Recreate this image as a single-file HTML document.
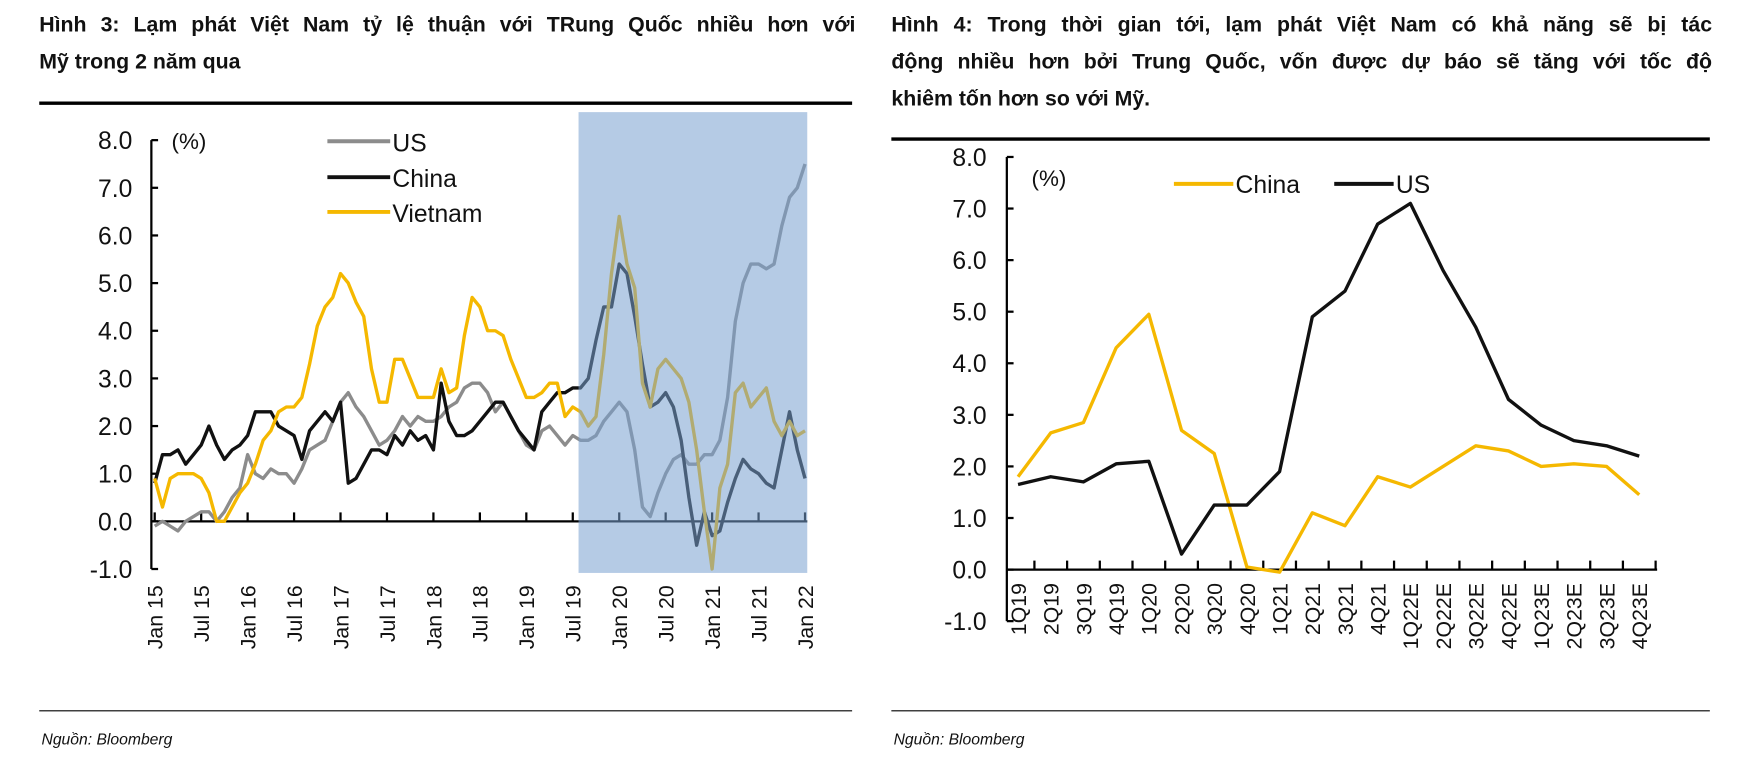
<!DOCTYPE html><html><head><meta charset="utf-8"><style>
body{margin:0;background:#fff;width:1758px;height:758px;overflow:hidden;font-family:"Liberation Sans","DejaVu Sans",sans-serif}
#w{position:absolute;left:0;top:0;width:1568px;height:676px;transform:scale(1.1212);transform-origin:0 0}
.t{position:absolute;font-weight:bold;font-size:19px;line-height:33px;color:#111;white-space:nowrap}
.j{text-align:justify;text-align-last:justify}
.s{position:absolute;font-style:italic;font-size:14px;color:#111}
</style></head><body><div id="w">
<div class="t" style="left:35px;top:6px;width:728px"><div class="j">Hình 3: Lạm phát Việt Nam tỷ lệ thuận với TRung Quốc nhiều hơn với</div><div>Mỹ trong 2 năm qua</div></div>
<div class="t" style="left:795px;top:6px;width:732px"><div class="j">Hình 4: Trong thời gian tới, lạm phát Việt Nam có khả năng sẽ bị tác</div><div class="j">động nhiều hơn bởi Trung Quốc, vốn được dự báo sẽ tăng với tốc độ</div><div>khiêm tốn hơn so với Mỹ.</div></div>
<div class="s" style="left:37px;top:651px">Nguồn: Bloomberg</div>
<div class="s" style="left:797px;top:651px">Nguồn: Bloomberg</div>
<svg id="sv" width="1568" height="676" style="position:absolute;left:0;top:0" font-family="Liberation Sans, DejaVu Sans, sans-serif">
<line x1="35" y1="92" x2="760" y2="92" stroke="#000" stroke-width="3"/>
<line x1="795" y1="124" x2="1525" y2="124" stroke="#000" stroke-width="3"/>
<line x1="35" y1="634" x2="760" y2="634" stroke="#000" stroke-width="1"/>
<line x1="795" y1="634" x2="1525" y2="634" stroke="#000" stroke-width="1"/>
</svg>
<script>
var sv=document.getElementById('sv'),NS='http://www.w3.org/2000/svg';
function el(t,a,txt){var e=document.createElementNS(NS,t);for(var k in a)e.setAttribute(k,a[k]);if(txt!=null)e.textContent=txt;sv.appendChild(e);return e;}
var LY=function(v){return 465-v*42.5},LX=function(i){return 138+i*580/84};
for(var v=-1;v<=8;v++){el('text',{x:118,y:LY(v)+8,'text-anchor':'end','font-size':22,fill:'#111'},(v<0?'-1.0':v.toFixed(1)));el('line',{x1:135,y1:LY(v),x2:141,y2:LY(v),stroke:'#000','stroke-width':2});}
el('line',{x1:135,y1:LY(8),x2:135,y2:LY(-1),stroke:'#000','stroke-width':2});
el('line',{x1:135,y1:LY(0),x2:720,y2:LY(0),stroke:'#000','stroke-width':2});
for(var i=0;i<=14;i++){var x=LX(i*6);el('line',{x1:x,y1:LY(0),x2:x,y2:LY(0)-8,stroke:'#000','stroke-width':2});
el('text',{x:0,y:0,transform:'translate('+(x+7)+',522) rotate(-90)','text-anchor':'end','font-size':19,fill:'#111'},(i%2?'Jul ':'Jan ')+(15+Math.floor(i/2)));}
el('text',{x:153,y:133,'font-size':20,fill:'#111'},'(%)');
var US=[-0.1,0,-0.1,-0.2,0,0.1,0.2,0.2,0,0.2,0.5,0.7,1.4,1,0.9,1.1,1,1,0.8,1.1,1.5,1.6,1.7,2.1,2.5,2.7,2.4,2.2,1.9,1.6,1.7,1.9,2.2,2,2.2,2.1,2.1,2.2,2.4,2.5,2.8,2.9,2.9,2.7,2.3,2.5,2.2,1.9,1.6,1.5,1.9,2,1.8,1.6,1.8,1.7,1.7,1.8,2.1,2.3,2.5,2.3,1.5,0.3,0.1,0.6,1,1.3,1.4,1.2,1.2,1.4,1.4,1.7,2.6,4.2,5,5.4,5.4,5.3,5.4,6.2,6.8,7,7.5];
var CN=[0.8,1.4,1.4,1.5,1.2,1.4,1.6,2,1.6,1.3,1.5,1.6,1.8,2.3,2.3,2.3,2,1.9,1.8,1.3,1.9,2.1,2.3,2.1,2.5,0.8,0.9,1.2,1.5,1.5,1.4,1.8,1.6,1.9,1.7,1.8,1.5,2.9,2.1,1.8,1.8,1.9,2.1,2.3,2.5,2.5,2.2,1.9,1.7,1.5,2.3,2.5,2.7,2.7,2.8,2.8,3,3.8,4.5,4.5,5.4,5.2,4.3,3.3,2.4,2.5,2.7,2.4,1.7,0.5,-0.5,0.2,-0.3,-0.2,0.4,0.9,1.3,1.1,1,0.8,0.7,1.5,2.3,1.5,0.9];
var VN=[0.9,0.3,0.9,1,1,1,0.9,0.6,0,0,0.3,0.6,0.8,1.2,1.7,1.9,2.3,2.4,2.4,2.6,3.3,4.1,4.5,4.7,5.2,5,4.6,4.3,3.2,2.5,2.5,3.4,3.4,3,2.6,2.6,2.6,3.2,2.7,2.8,3.9,4.7,4.5,4,4,3.9,3.4,3,2.6,2.6,2.7,2.9,2.9,2.2,2.4,2.3,2,2.2,3.5,5.2,6.4,5.4,4.9,2.9,2.4,3.2,3.4,3.2,3,2.5,1.5,0.2,-1,0.7,1.2,2.7,2.9,2.4,2.6,2.8,2.1,1.8,2.1,1.8,1.9];
function pl(d,fx,fy,c){el('polyline',{points:d.map(function(v,i){return fx(i)+','+fy(v)}).join(' '),fill:'none',stroke:c,'stroke-width':3,'stroke-linejoin':'round'});}
pl(US,LX,LY,'#8c8c8c');pl(CN,LX,LY,'#111');pl(VN,LX,LY,'#f5b800');
el('rect',{x:516,y:100,width:204,height:411,fill:'rgba(120,160,208,0.55)'});
[['#8c8c8c','US',127],['#111','China',159],['#f5b800','Vietnam',190]].forEach(function(a){el('line',{x1:292,y1:a[2]-1,x2:348,y2:a[2]-1,stroke:a[0],'stroke-width':3.5});el('text',{x:350,y:a[2]+8,'font-size':22,fill:'#111'},a[1]);});
var RY=function(v){return 508-v*46},RX=function(i){return 908+i*29.16};
for(var v=-1;v<=8;v++){el('text',{x:880,y:RY(v)+8,'text-anchor':'end','font-size':22,fill:'#111'},(v<0?'-1.0':v.toFixed(1)));el('line',{x1:898,y1:RY(v),x2:904,y2:RY(v),stroke:'#000','stroke-width':2});}
el('line',{x1:898,y1:RY(8),x2:898,y2:RY(-1),stroke:'#000','stroke-width':2});
el('line',{x1:898,y1:RY(0),x2:1478,y2:RY(0),stroke:'#000','stroke-width':2});
var cats=['1Q19','2Q19','3Q19','4Q19','1Q20','2Q20','3Q20','4Q20','1Q21','2Q21','3Q21','4Q21','1Q22E','2Q22E','3Q22E','4Q22E','1Q23E','2Q23E','3Q23E','4Q23E'];
cats.forEach(function(c,i){var x=RX(i);el('line',{x1:x+14.6,y1:RY(0),x2:x+14.6,y2:RY(0)-8,stroke:'#000','stroke-width':2});
el('text',{x:0,y:0,transform:'translate('+(x+7)+',520) rotate(-90)','text-anchor':'end','font-size':19,fill:'#111'},c);});
el('text',{x:920,y:166,'font-size':20,fill:'#111'},'(%)');
var C2=[1.8,2.65,2.85,4.3,4.95,2.7,2.25,0.05,-0.05,1.1,0.85,1.8,1.6,2,2.4,2.3,2,2.05,2,1.45];
var U2=[1.65,1.8,1.7,2.05,2.1,0.3,1.25,1.25,1.9,4.9,5.4,6.7,7.1,5.8,4.7,3.3,2.8,2.5,2.4,2.2];
pl(C2,RX,RY,'#f5b800');pl(U2,RX,RY,'#111');
el('line',{x1:1047,y1:164,x2:1100,y2:164,stroke:'#f5b800','stroke-width':3.5});el('text',{x:1102,y:172,'font-size':22,fill:'#111'},'China');
el('line',{x1:1190,y1:164,x2:1243,y2:164,stroke:'#111','stroke-width':3.5});el('text',{x:1245,y:172,'font-size':22,fill:'#111'},'US');
</script>
</div></body></html>
